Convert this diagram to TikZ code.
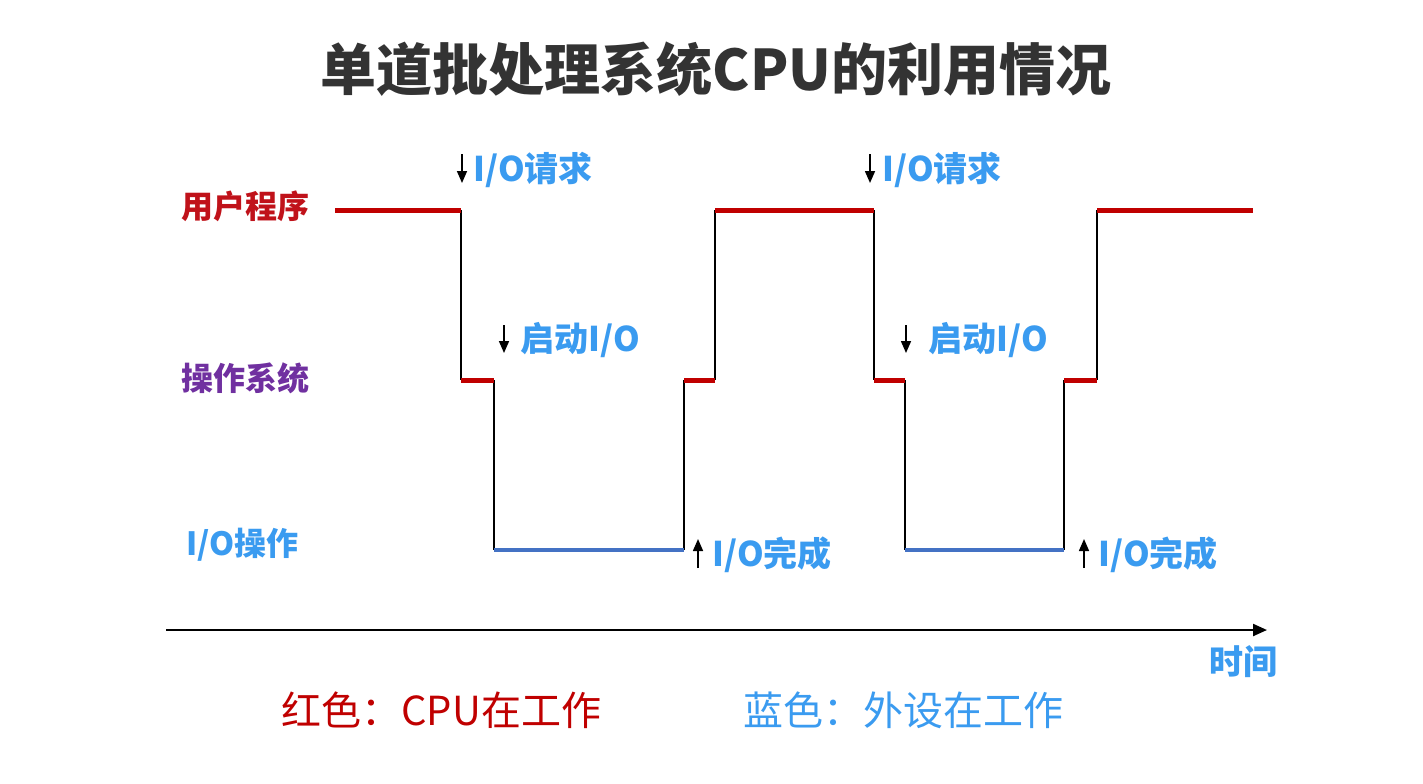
\documentclass[tikz,border=0pt]{standalone}
\usepackage{fontspec}
\setmainfont{Noto Sans CJK SC}
\usetikzlibrary{arrows.meta}
\definecolor{titlegray}{HTML}{333333}
\definecolor{cpured}{HTML}{C00000}
\definecolor{labred}{HTML}{C0121A}
\definecolor{ospurple}{HTML}{7030A0}
\definecolor{txtblue}{HTML}{3A9BF0}
\definecolor{ioblue}{HTML}{4472C4}
\begin{document}
\begin{tikzpicture}[x=0.5pt,y=-0.5pt,
  lab/.style={inner sep=0pt,anchor=west,font=\bfseries\fontsize{16pt}{18pt}\selectfont},
  evlab/.style={inner sep=0pt,anchor=west,text=txtblue,font=\bfseries\fontsize{17pt}{19pt}\selectfont},
  legend/.style={inner sep=0pt,anchor=west,font=\fontsize{20pt}{22pt}\selectfont},
  cpuline/.style={draw=cpured,line width=2.5pt},
  ioline/.style={draw=ioblue,line width=2pt},
  edge/.style={draw=black,line width=1pt},
  tick/.style={draw=black,line width=0.8pt,-{Triangle[length=6pt,width=5pt]}}]
\useasboundingbox (0,0) rectangle (1423,783);
\fill[white] (0,0) rectangle (1423,783);
% title
\node[inner sep=0pt,text=titlegray,font=\bfseries\fontsize{28pt}{30pt}\selectfont] (title) at (716,69) {单道批处理系统CPU的利用情况};
% row labels
\node[lab,text=labred] (lu) at (181,206) {用户程序};
\node[lab,text=ospurple] (los) at (181,378) {操作系统};
\node[lab,text=txtblue] (lio) at (186,545) {I/O操作};
% waveform corners
\coordinate (a0) at (335,210);
\coordinate (a1) at (461,210); \coordinate (a2) at (461,380);
\coordinate (a3) at (494,380); \coordinate (a4) at (494,550);
\coordinate (a5) at (684,550); \coordinate (a6) at (684,380);
\coordinate (a7) at (715,380); \coordinate (a8) at (715,210);
\coordinate (b1) at (874,210); \coordinate (b2) at (874,380);
\coordinate (b3) at (905,380); \coordinate (b4) at (905,550);
\coordinate (b5) at (1064,550); \coordinate (b6) at (1064,380);
\coordinate (b7) at (1097,380); \coordinate (b8) at (1097,210);
\coordinate (b9) at (1253,210);
% black transitions
\draw[edge] (a1) -- (a2);
\draw[edge] (a3) -- (a4);
\draw[edge] (a5) -- (a6);
\draw[edge] (a7) -- (a8);
\draw[edge] (b1) -- (b2);
\draw[edge] (b3) -- (b4);
\draw[edge] (b5) -- (b6);
\draw[edge] (b7) -- (b8);
% red cpu segments
\draw[cpuline] (a0) -- (a1);
\draw[cpuline] (a2) -- (a3);
\draw[cpuline] (a6) -- (a7);
\draw[cpuline] (a8) -- (b1);
\draw[cpuline] (b2) -- (b3);
\draw[cpuline] (b6) -- (b7);
\draw[cpuline] (b8) -- (b9);
% blue io segments
\draw[ioline] (a4) -- (a5);
\draw[ioline] (b4) -- (b5);
% event labels
\node[evlab] (req1) at (473,170) {I/O请求};
\node[evlab] (req2) at (882,170) {I/O请求};
\node[evlab] (st1) at (520,340) {启动I/O};
\node[evlab] (st2) at (928,340) {启动I/O};
\node[evlab] (done1) at (712,555) {I/O完成};
\node[evlab] (done2) at (1098,555) {I/O完成};
% small arrows
\coordinate (r1t) at (462,154); \coordinate (r1b) at (462,183);
\coordinate (r2t) at (870,154); \coordinate (r2b) at (870,183);
\coordinate (s1t) at (504,325); \coordinate (s1b) at (504,353);
\coordinate (s2t) at (906,325); \coordinate (s2b) at (906,353);
\coordinate (d1b) at (698,568); \coordinate (d1t) at (698,539);
\coordinate (d2b) at (1084,568); \coordinate (d2t) at (1084,539);
\draw[tick] (r1t) -- (r1b);
\draw[tick] (r2t) -- (r2b);
\draw[tick] (s1t) -- (s1b);
\draw[tick] (s2t) -- (s2b);
\draw[tick] (d1b) -- (d1t);
\draw[tick] (d2b) -- (d2t);
% time axis
\coordinate (ax0) at (166,630);
\coordinate (ax1) at (1267,630);
\draw[draw=black,line width=1.1pt,-{Triangle[length=7pt,width=6pt]}] (ax0) -- (ax1);
\node[evlab] (time) at (1209,662) {时间};
% legend
\node[legend,text=cpured] (lg1) at (281,710) {红色：CPU在工作};
\node[legend,text=txtblue] (lg2) at (743,710) {蓝色：外设在工作};
\end{tikzpicture}
\end{document}
